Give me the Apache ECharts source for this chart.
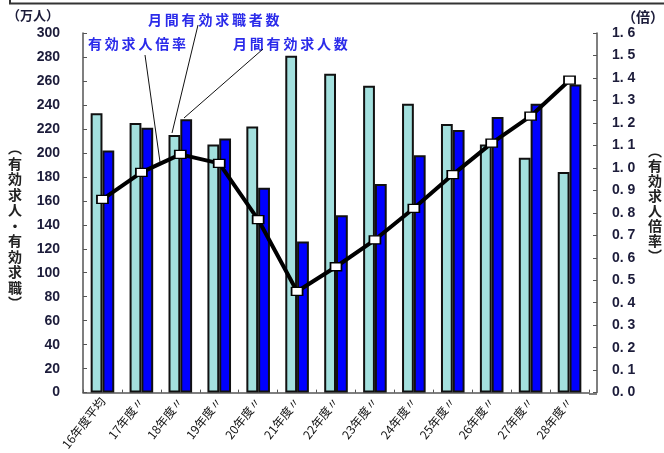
<!DOCTYPE html>
<html>
<head>
<meta charset="utf-8">
<script src="https://cdn.jsdelivr.net/npm/echarts@6/dist/echarts.min.js"></script>
<style>
html,body{margin:0;padding:0;background:#fff;}
#chart{width:664px;height:453px;}
</style>
</head>
<body>
<div id="chart"></div>
<script>
var categories = ['16年度平均','17年度〃','18年度〃','19年度〃','20年度〃','21年度〃','22年度〃','23年度〃','24年度〃','25年度〃','26年度〃','27年度〃','28年度〃'];
var jobSeekers = [233, 225, 215, 207, 222, 281, 266, 256, 241, 224, 207, 196, 184];
var jobOffers = [202, 221, 228, 212, 171, 126, 148, 174, 198, 219, 230, 241, 257];
var offerRatio = [0.86, 0.98, 1.06, 1.02, 0.77, 0.45, 0.56, 0.68, 0.82, 0.97, 1.11, 1.23, 1.39];
var leftTicks = {min: 0, max: 300, interval: 20};
var rightTicks = {min: 0, max: 1.6, interval: 0.1};

var chart = echarts.init(document.getElementById('chart'), null, {renderer: 'canvas'});
var tickFont = {fontFamily: 'Liberation Sans, Arial, sans-serif', fontWeight: 'bold', fontSize: 14, color: '#1c1c3a'};
var jp = 'Noto Sans CJK JP, sans-serif';
function vert(s){ return s.split('').join('\n'); }
function spaced(s){ return s.split('').join('\u2009'); }
var annColor = '#2b2bea';

chart.setOption({
  animation: false,
  grid: {left: 83, right: 75, top: 33, bottom: 59, containLabel: false},
  xAxis: {
    type: 'category',
    data: categories,
    boundaryGap: true,
    axisLine: {show: true, lineStyle: {color: '#555', width: 1.5}},
    axisTick: {show: true, inside: true, length: 3, lineStyle: {color: '#555'}},
    axisLabel: {rotate: 52, fontSize: 12, fontFamily: jp, color: '#111', margin: 6, interval: 0}
  },
  yAxis: [{
    type: 'value', min: leftTicks.min, max: leftTicks.max, interval: leftTicks.interval,
    position: 'left',
    axisLine: {show: true, lineStyle: {color: '#555', width: 1.5}},
    axisTick: {show: true, inside: true, length: 4, lineStyle: {color: '#555'}},
    splitLine: {show: false},
    axisLabel: Object.assign({margin: 23}, tickFont)
  }, {
    type: 'value', min: rightTicks.min, max: rightTicks.max, interval: rightTicks.interval,
    position: 'right', offset: 8,
    axisLine: {show: true, lineStyle: {color: '#555', width: 1.5}},
    axisTick: {show: true, inside: true, length: 4, lineStyle: {color: '#555'}},
    splitLine: {show: false},
    axisLabel: Object.assign({margin: 15, formatter: function(v){ return v.toFixed(1).replace('.', '. '); }}, tickFont)
  }],
  series: [{
    name: '月間有効求職者数', type: 'bar', data: jobSeekers, yAxisIndex: 0,
    barWidth: 11.8, barGap: '0%',
    itemStyle: {color: '#a3e0de', borderColor: '#111', borderWidth: 2}
  }, {
    name: '月間有効求人数', type: 'bar', data: jobOffers, yAxisIndex: 0,
    barWidth: 11.8, barGap: '0%',
    itemStyle: {color: '#0000ff', borderColor: '#111', borderWidth: 2}
  }, {
    name: '有効求人倍率', type: 'line', data: offerRatio, yAxisIndex: 1,
    symbol: 'rect', symbolSize: [11, 8],
    lineStyle: {color: '#000', width: 4},
    itemStyle: {color: '#fff', borderColor: '#000', borderWidth: 1.5},
    z: 5
  }],
  graphic: [
    {type: 'polyline', shape: {points: [[10, 0], [10, 3.5], [664, 3.5]]}, style: {stroke: '#333', lineWidth: 2, fill: null}},
    {type: 'line', shape: {x1: 589, y1: 394, x2: 597, y2: 394}, style: {stroke: '#555', lineWidth: 1.5}},
    {type: 'text', left: 7, top: 9, style: {text: '（万人）', font: 'bold 13px ' + jp, fill: '#1c1c3a'}},
    {type: 'text', left: 622, top: 10, style: {text: '（倍）', font: 'bold 14px ' + jp, fill: '#1c1c3a'}},
    {type: 'text', x: 15, y: 140, style: {text: vert('︵有効求人・有効求職︶'), font: 'bold 14px ' + jp, lineHeight: 15.5, fill: '#222', align: 'center'}},
    {type: 'text', x: 655, y: 143, style: {text: vert('︵有効求人倍率︶'), font: 'bold 14px ' + jp, lineHeight: 15, fill: '#222', align: 'center'}},
    {type: 'text', left: 88, top: 37, style: {text: spaced('有効求人倍率'), font: 'bold 14px ' + jp, fill: annColor}},
    {type: 'text', left: 148, top: 13, style: {text: spaced('月間有効求職者数'), font: 'bold 14px ' + jp, fill: annColor}},
    {type: 'text', left: 233, top: 37, style: {text: spaced('月間有効求人数'), font: 'bold 14px ' + jp, fill: annColor}},
    {type: 'line', shape: {x1: 145, y1: 55, x2: 160, y2: 162}, style: {stroke: '#111', lineWidth: 1}},
    {type: 'line', shape: {x1: 198, y1: 25, x2: 172, y2: 133}, style: {stroke: '#111', lineWidth: 1}},
    {type: 'line', shape: {x1: 263, y1: 49, x2: 184, y2: 118}, style: {stroke: '#111', lineWidth: 1}}
  ]
});
</script>
</body>
</html>
